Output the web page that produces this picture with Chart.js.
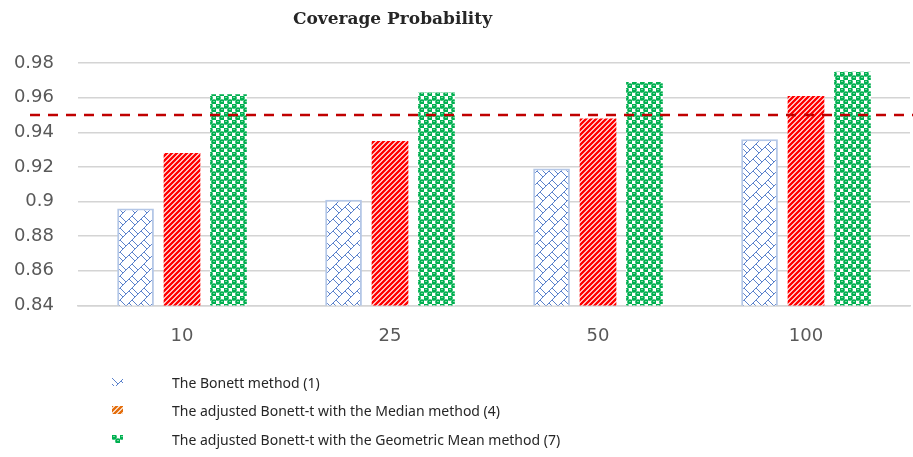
<!DOCTYPE html>
<html>
<head>
<meta charset="utf-8">
<script src="https://cdn.jsdelivr.net/npm/chart.js@4"></script>
<style>
body { margin: 0; background: #fff; }
#wrap { position: relative; width: 913px; height: 457px; }
#title { position: absolute; left: 0; width: 785px; top: 8px; text-align: center;
  font: bold 17px "DejaVu Serif", serif; color: #262626; }
.leg { position: absolute; left: 0; height: 20px; font: 14px "Noto Sans", sans-serif; color: #262626; }
.leg canvas { position: absolute; left: 112px; top: 5px; }
.leg span { position: absolute; left: 172px; top: 0; white-space: nowrap; }
</style>
</head>
<body>
<div id="wrap">
  <canvas id="chart" width="913" height="457"></canvas>
  <div id="title">Coverage Probability</div>
  <div class="leg" style="top:373px"><canvas id="ic0" width="11" height="8"></canvas><span>The Bonett method (1)</span></div>
  <div class="leg" style="top:401px"><canvas id="ic1" width="11" height="8"></canvas><span>The adjusted Bonett-t with the Median method (4)</span></div>
  <div class="leg" style="top:430px"><canvas id="ic2" width="11" height="8"></canvas><span>The adjusted Bonett-t with the Geometric Mean method (7)</span></div>
</div>
<script>
const categories = ['10', '25', '50', '100'];
const bonett = [0.896, 0.901, 0.919, 0.936];
const medianAdj = [0.928, 0.935, 0.948, 0.961];
const geoMeanAdj = [0.962, 0.963, 0.969, 0.975];
const threshold = 0.95;

// small repeating tiles for the hatched bar fills
const makeTile = (size, draw) => {
  const c = document.createElement('canvas');
  c.width = size; c.height = size;
  const g = c.getContext('2d');
  g.fillStyle = '#fff';
  g.fillRect(0, 0, size, size);
  draw(g, size);
  return c;
};

const blueTile = makeTile(12, (g) => {
  g.strokeStyle = '#5b82cc';
  g.lineWidth = 1;
  g.beginPath();
  g.moveTo(-1, 13); g.lineTo(13, -1);
  g.moveTo(-1, 1); g.lineTo(1, -1);
  g.moveTo(11, 13); g.lineTo(13, 11);
  g.moveTo(0, 0); g.lineTo(6, 6);
  g.moveTo(9, 3); g.lineTo(12, 6);
  g.moveTo(0, 6); g.lineTo(3, 9);
  g.stroke();
});

const redTile = (color) => makeTile(5, (g) => {
  g.strokeStyle = color;
  g.lineWidth = 2.4;
  g.beginPath();
  g.moveTo(-1, 6); g.lineTo(6, -1);
  g.moveTo(-1, 1); g.lineTo(1, -1);
  g.moveTo(4, 6); g.lineTo(6, 4);
  g.stroke();
});

const greenTile = makeTile(8, (g) => {
  g.fillStyle = '#00b050';
  [[2, 2], [6, 6]].forEach(([x, y]) => {
    g.beginPath(); g.arc(x, y, 2.8, 0, Math.PI * 2); g.fill();
  });
  g.fillStyle = '#e8f7ee';
  g.fillRect(1.5, 1, 1, 1);
  g.fillRect(5.5, 5, 1, 1);
});

const ctx = document.getElementById('chart').getContext('2d');
const bluePat = ctx.createPattern(blueTile, 'repeat');
const redPat = ctx.createPattern(redTile('#ff0000'), 'repeat');
const greenPat = ctx.createPattern(greenTile, 'repeat');

// legend icons
[[blueTile, 'ic0'], [redTile('#e46c0a'), 'ic1'], [greenTile, 'ic2']].forEach(([tile, id]) => {
  const g = document.getElementById(id).getContext('2d');
  g.fillStyle = g.createPattern(tile, 'repeat');
  g.fillRect(0, 0, 11, 8);
});

const refLine = {
  id: 'refLine',
  afterDatasetsDraw(chart) {
    const y = chart.scales.y.getPixelForValue(threshold);
    const c = chart.ctx;
    c.save();
    c.strokeStyle = '#c00000';
    c.lineWidth = 2.5;
    c.setLineDash([10, 8]);
    c.beginPath();
    c.moveTo(30, y);
    c.lineTo(chart.width, y);
    c.stroke();
    c.restore();
  }
};

new Chart(ctx, {
  type: 'bar',
  data: {
    labels: categories,
    datasets: [
      { label: 'The Bonett method (1)', data: bonett, backgroundColor: bluePat,
        borderColor: '#b4c7e7', borderWidth: 2 },
      { label: 'The adjusted Bonett-t with the Median method (4)', data: medianAdj,
        backgroundColor: redPat, borderWidth: 0 },
      { label: 'The adjusted Bonett-t with the Geometric Mean method (7)', data: geoMeanAdj,
        backgroundColor: greenPat, borderWidth: 0 }
    ]
  },
  options: {
    responsive: false,
    animation: false,
    devicePixelRatio: 1,
    categoryPercentage: 0.67,
    barPercentage: 0.79,
    layout: { padding: { top: 63, right: 3, bottom: 90, left: 0 } },
    plugins: { legend: { display: false }, title: { display: false }, tooltip: { enabled: false } },
    scales: {
      x: {
        grid: { display: false, drawTicks: false },
        border: { color: '#d4d4d4', width: 1.5 },
        ticks: { padding: 20, color: '#595959', font: { family: 'DejaVu Sans', size: 18 } }
      },
      y: {
        min: 0.84,
        max: 0.98,
        afterFit: (s) => { s.width = 78; },
        grid: { color: '#d4d4d4', lineWidth: 1.5, drawTicks: false },
        border: { display: false },
        ticks: {
          stepSize: 0.02,
          padding: 24,
          color: '#595959',
          font: { family: 'DejaVu Sans', size: 18 },
          callback: (v) => String(+v.toFixed(2))
        }
      }
    }
  },
  plugins: [refLine]
});
</script>
</body>
</html>
